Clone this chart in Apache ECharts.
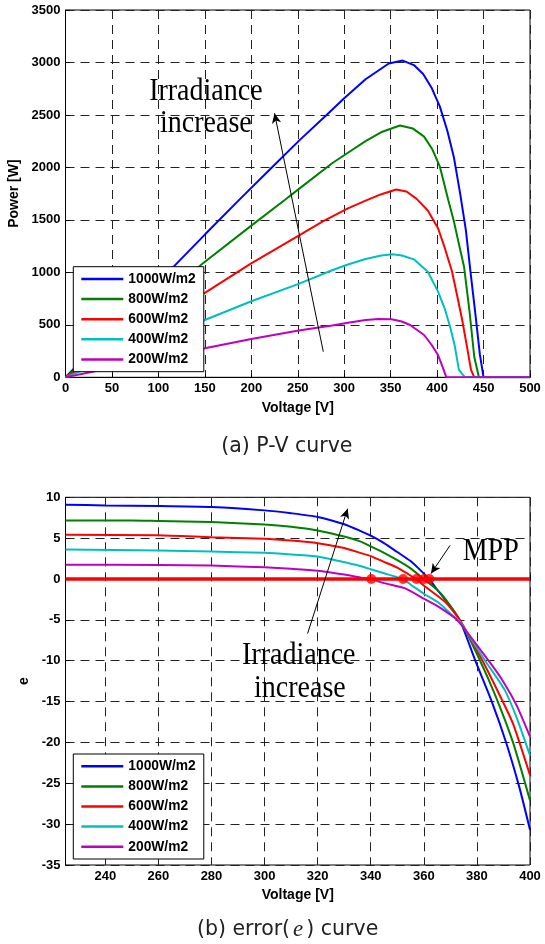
<!DOCTYPE html>
<html><head><meta charset="utf-8">
<script src="https://cdn.jsdelivr.net/npm/echarts@6/dist/echarts.min.js"></script>
<style>html,body{margin:0;padding:0;background:#fff;}#c{width:545px;height:944px;}</style>
</head><body><div id="c"></div>
<script>
// ---------- data ----------
const seriesNames = ['1000W/m2', '800W/m2', '600W/m2', '400W/m2', '200W/m2'];
const seriesColors = ['#0000ff', '#008000', '#ff0000', '#00bfbf', '#bf00bf'];

// P-V curves: [Voltage V, Power W]
const pv1000 = [[0,0],[50,450],[100,905],[118,1069],[150,1360],[188,1700],[221,1990],[252,2260],[281,2500],[300,2660],[323,2840],[348,2990],[363,3018],[375,2975],[385,2890],[394,2760],[403,2579],[411,2350],[418,2100],[425,1740],[431,1400],[436,1000],[441,620],[446,220],[450,0],[500,0]];
const pv800  = [[0,0],[50,362],[100,725],[147,1080],[200,1445],[236,1690],[252,1800],[287,2040],[304,2140],[323,2250],[341,2340],[360,2400],[374,2370],[386,2293],[395,2170],[403,2007],[412,1690],[418,1490],[423,1290],[429,1054],[435,620],[440,196],[445,0],[500,0]];
const pv600  = [[0,0],[50,270],[100,540],[150,805],[199,1080],[251,1350],[277,1485],[304,1610],[323,1683],[340,1745],[356,1790],[367,1770],[378,1700],[390,1590],[401,1420],[408,1240],[416,1010],[422,760],[427,546],[432,300],[436.5,70],[440,0],[500,0]];
const pv400  = [[0,0],[50,182],[100,365],[150,546],[200,725],[251,890],[287,1020],[304,1075],[323,1127],[340,1160],[352,1172],[362,1160],[375,1124],[390,1006],[401,816],[408,660],[414,482],[419,300],[423.5,70],[430,0],[500,0]];
const pv200  = [[0,0],[50,90],[100,182],[150,276],[200,365],[251,445],[287,494],[304,520],[323,545],[337,555],[351,553],[362,532],[371,498],[386,403],[394,310],[401,212],[405,120],[410,0],[500,0]];

// error (e) curves: [Voltage V, e]
const e1000 = [[225,9.1],[240,9.0],[260,8.93],[280,8.8],[300,8.4],[310,8.05],[320,7.6],[330,6.7],[336,5.9],[340,5.3],[345,4.4],[350,3.3],[355,2.2],[358,1.3],[362,0],[365,-1.3],[368,-2.5],[373.5,-5],[379.4,-10],[385.6,-15],[391,-20],[396,-25.5],[400,-30.7]];
const e800  = [[225,7.17],[250,7.17],[260,7.1],[280,6.97],[300,6.68],[310,6.4],[320,5.94],[330,5.2],[336,4.6],[340,4.0],[345,3.2],[350,2.3],[355,1.3],[360,0],[365,-1.3],[368,-2.4],[373.5,-5],[381.2,-10],[387,-14.3],[393.6,-20],[400,-27.1]];
const e600  = [[225,5.41],[260,5.37],[280,5.12],[300,4.92],[310,4.7],[320,4.39],[330,3.8],[336,3.2],[340,2.8],[345,2.1],[350,1.4],[357,0],[360,-0.8],[368,-2.8],[373.5,-5],[382.1,-10],[389,-14.5],[393.6,-17.7],[400,-24]];
const e400  = [[225,3.6],[260,3.48],[280,3.36],[300,3.2],[310,3.0],[320,2.75],[328,2.2],[336,1.6],[340,1.2],[345,0.7],[352,0],[356,-0.9],[360,-1.8],[365.6,-2.9],[370.6,-4.4],[373.5,-5.2],[383.1,-10],[390.5,-13.6],[395,-17],[400,-21.6]];
const e200  = [[225,1.76],[260,1.72],[280,1.64],[300,1.43],[310,1.25],[320,1.02],[330,0.55],[336,0.2],[340,0],[345,-0.5],[353,-1.15],[360,-2.4],[365.6,-3.4],[372.5,-5],[384.4,-10],[390,-12.6],[395,-15.5],[400,-19.3]];

const zeroLine = [[225,0],[400,0]];
const mppPoints = [[340.2,0],[352.2,0],[357.2,0],[360.1,0],[362.1,0]];

// axis ranges / ticks
const topXRange = [0, 500, 50];
const topYRange = [0, 3500, 500];
const botXRange = [225, 400];
const botXTicks = [240, 260, 280, 300, 320, 340, 360, 380, 400];
const botYRange = [-35, 10, 5];

// annotations (data units)
const topArrow = [[277.5, 244], [225, 2516]];
const botArrow = [[316.2, -6.68], [331.3, 8.61]];
const mppArrow = [[369.9, 4.12], [362.7, 0.66]];
const topTexts = [['Irradiance', 151.1, 2720], ['increase', 151.1, 2412]];
const botTexts = [['Irradiance', 312.9, -9.36], ['increase', 313.3, -13.44], ['MPP', 385.2, 3.4]];

// ---------- chart ----------
const SANS = '"Liberation Sans", Arial, sans-serif';
const SERIF = '"Liberation Serif", "Times New Roman", serif';
const pvData = [pv1000, pv800, pv600, pv400, pv200];
const eData = [e1000, e800, e600, e400, e200];

function axisCommon() {
  return {
    type: 'value',
    nameLocation: 'middle',
    nameTextStyle: { fontFamily: SANS, fontWeight: 'bold', fontSize: 14, color: '#000' },
    axisLine: { show: true, lineStyle: { color: '#000', width: 1 } },
    axisTick: { show: true, inside: true, length: 4, lineStyle: { color: '#000' } },
    axisLabel: { fontFamily: SANS, fontWeight: 'bold', fontSize: 13, color: '#000', margin: 5, formatter: v => String(v) },
    splitLine: { show: true, lineStyle: { color: '#222', width: 1, type: [9, 6] } }
  };
}
function legendCommon(top) {
  return {
    left: 73.3, top: top, orient: 'vertical',
    backgroundColor: '#fff', borderColor: '#000', borderWidth: 1,
    padding: [5.3, 8, 5.3, 8], itemGap: 6.1, itemWidth: 42, itemHeight: 2.5,
    icon: 'rect', selectedMode: false,
    textStyle: { fontFamily: SANS, fontWeight: 'bold', fontSize: 13.8, color: '#000', lineHeight: 14 },
    data: seriesNames
  };
}

const series = [];
pvData.forEach((d, i) => series.push({
  name: seriesNames[i], type: 'line', xAxisIndex: 0, yAxisIndex: 0, data: d,
  showSymbol: false, color: seriesColors[i], lineStyle: { width: 2, color: seriesColors[i] },
  markLine: i === 4 ? {
    silent: true, symbol: ['none', 'arrow'], symbolSize: [7, 10],
    lineStyle: { color: '#000', width: 1, type: 'solid' }, label: { show: false },
    data: [[{ coord: topArrow[0] }, { coord: topArrow[1] }]]
  } : undefined
}));
eData.forEach((d, i) => series.push({
  name: seriesNames[i], type: 'line', xAxisIndex: 1, yAxisIndex: 1, data: d,
  showSymbol: false, smooth: 0.2,
  color: seriesColors[i], lineStyle: { width: 2, color: seriesColors[i] }
}));
series.push({
  name: 'zero', type: 'line', xAxisIndex: 1, yAxisIndex: 1, data: zeroLine, showSymbol: false,
  lineStyle: { color: '#ff0000', width: 3.5 }, z: 3,
  markLine: {
    silent: true, symbol: ['none', 'arrow'], symbolSize: [7, 10],
    lineStyle: { color: '#000', width: 1, type: 'solid' }, label: { show: false },
    data: [[{ coord: botArrow[0] }, { coord: botArrow[1] }], [{ coord: mppArrow[0] }, { coord: mppArrow[1] }]]
  }
});
series.push({
  name: 'mpp', type: 'scatter', xAxisIndex: 1, yAxisIndex: 1, data: mppPoints,
  symbolSize: 10, itemStyle: { color: '#ff0000' }, z: 4
});

const gridCommon = { left: 65.5, right: 15, show: true, borderColor: '#000', borderWidth: 1, backgroundColor: '#fff', containLabel: false, outerBoundsMode: 'none' };
const option = {
  animation: false,
  backgroundColor: '#fff',
  grid: [
    Object.assign({}, gridCommon, { top: 10, height: 367.3 }),
    Object.assign({}, gridCommon, { top: 497.3, height: 367.7 })
  ],
  xAxis: [
    Object.assign(axisCommon(), { gridIndex: 0, min: topXRange[0], max: topXRange[1], interval: topXRange[2], name: 'Voltage [V]', nameGap: 24 }),
    (function () {
      const a = Object.assign(axisCommon(), { gridIndex: 1, min: botXRange[0], max: botXRange[1], name: 'Voltage [V]', nameGap: 23 });
      a.axisTick = Object.assign({}, a.axisTick, { customValues: botXTicks });
      a.axisLabel = Object.assign({}, a.axisLabel, { customValues: botXTicks });
      return a;
    })()
  ],
  yAxis: [
    Object.assign(axisCommon(), { gridIndex: 0, min: topYRange[0], max: topYRange[1], interval: topYRange[2], name: 'Power [W]', nameGap: 39 }),
    Object.assign(axisCommon(), { gridIndex: 1, min: botYRange[0], max: botYRange[1], interval: botYRange[2], name: 'e', nameGap: 28 })
  ],
  legend: [legendCommon(266.7), legendCommon(754)],
  series: series,
  graphic: [
    { id: 'capA', type: 'text', x: 286.8, y: 447, style: { text: '(a) P-V curve', fontFamily: '"DejaVu Sans", sans-serif', fontSize: 20.5, fill: '#222', align: 'center', verticalAlign: 'middle' } },
    { id: 'capB', type: 'text', x: 287.6, y: 930, style: {
      text: '{n|(b) error(}{i|e}{n|) curve}', align: 'center', verticalAlign: 'middle', fill: '#222',
      rich: { n: { fontFamily: '"DejaVu Sans", sans-serif', fontSize: 20.5, fill: '#222' },
              i: { fontFamily: SERIF, fontStyle: 'italic', fontSize: 23, fill: '#222', padding: [0, 3, 0, 3] } } } }
  ]
};

const chart = echarts.init(document.getElementById('c'), null, { renderer: 'canvas' });
chart.setOption(option);

const ann = [];
function addText(gi, t, k) {
  const p = chart.convertToPixel({ xAxisIndex: gi, yAxisIndex: gi }, [t[1], t[2]]);
  ann.push({ id: 'ann' + gi + '_' + k, type: 'text', x: p[0], y: p[1], scaleY: 1.13, z: 100,
    style: { text: t[0], fontFamily: SERIF, fontSize: 28, fill: '#000', align: 'center', verticalAlign: 'middle' } });
}
topTexts.forEach((t, k) => addText(0, t, k));
botTexts.forEach((t, k) => addText(1, t, k));
chart.setOption({ graphic: ann });
</script></body></html>
